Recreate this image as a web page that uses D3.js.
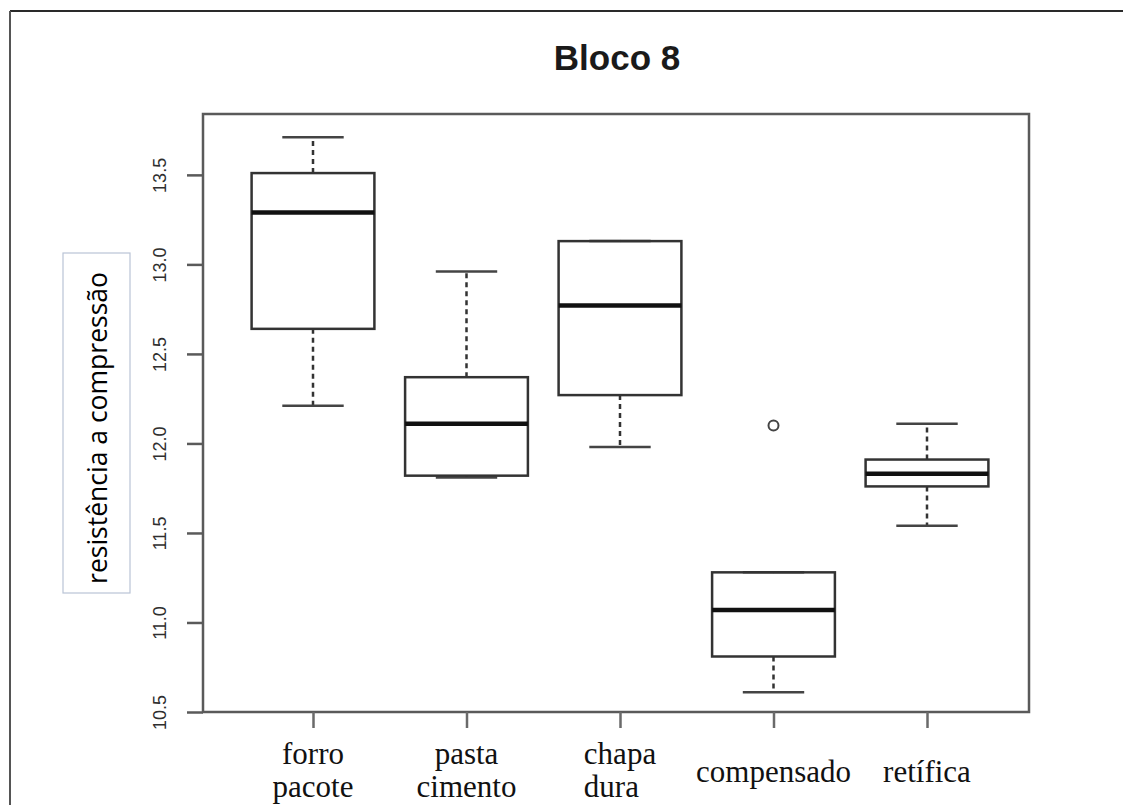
<!DOCTYPE html>
<html>
<head>
<meta charset="utf-8">
<script src="https://cdn.jsdelivr.net/npm/d3@7"></script>
<style>
  html, body { margin: 0; padding: 0; background: #fff; }
  svg { display: block; }
</style>
</head>
<body>
<svg id="chart" width="1123" height="805"></svg>
<script>
// Compressive strength per treatment, block 8
const categories = ["forro pacote", "pasta cimento", "chapa dura", "compensado", "retífica"];
const categoryLines = [["forro", "pacote"], ["pasta", "cimento"], ["chapa", "dura"], ["compensado"], ["retífica"]];
const lowerWhisker = [12.21, 11.81, 11.98, 10.61, 11.54];
const q1 = [12.64, 11.82, 12.27, 10.81, 11.76];
const medians = [13.29, 12.11, 12.77, 11.07, 11.83];
const q3 = [13.51, 12.37, 13.13, 11.28, 11.91];
const upperWhisker = [13.71, 12.96, 13.13, 11.28, 12.11];
const outliers = [[], [], [], [12.10], []];
const yTicks = [10.5, 11.0, 11.5, 12.0, 12.5, 13.0, 13.5];

const rows = categories.map((c, i) => ({
  name: c, idx: i + 1, lines: categoryLines[i],
  lo: lowerWhisker[i], q1: q1[i], med: medians[i], q3: q3[i], hi: upperWhisker[i],
  out: outliers[i]
}));

const svg = d3.select("#chart");

// plot region
const frame = { left: 203, right: 1029, top: 114, bottom: 712 };
const x = d3.scaleLinear().domain([1, 5]).range([313, 927]);
const y = d3.scaleLinear().domain([10.5, 13.84]).range([frame.bottom, frame.top]);
const boxW = 0.8 * (x(2) - x(1));
const capW = boxW / 2;

// outer page border (top and left edges)
svg.append("line").attr("x1", 10).attr("y1", 11).attr("x2", 1123).attr("y2", 11)
  .attr("stroke", "#2a2a2a").attr("stroke-width", 2);
svg.append("line").attr("x1", 10).attr("y1", 11).attr("x2", 10).attr("y2", 805)
  .attr("stroke", "#555").attr("stroke-width", 2);

// title
svg.append("text")
  .attr("x", 617).attr("y", 70)
  .attr("text-anchor", "middle")
  .attr("font-family", "Liberation Sans, Arial, sans-serif")
  .attr("font-weight", "bold")
  .attr("font-size", 35)
  .attr("fill", "#1a1a1a")
  .text("Bloco 8");

// plot frame
svg.append("rect")
  .attr("x", frame.left).attr("y", frame.top)
  .attr("width", frame.right - frame.left).attr("height", frame.bottom - frame.top)
  .attr("fill", "none").attr("stroke", "#5a5a5a").attr("stroke-width", 2.5);

// y axis
const yAxis = d3.axisLeft(y).tickValues(yTicks).tickSize(16).tickFormat(d3.format(".1f"));
const gy = svg.append("g").attr("transform", `translate(${frame.left},0)`).call(yAxis);
gy.select(".domain").remove();
gy.selectAll(".tick line").attr("stroke", "#5a5a5a").attr("stroke-width", 2.5);
gy.selectAll(".tick text")
  .attr("font-family", "Liberation Sans, Arial, sans-serif")
  .attr("font-size", 18)
  .attr("fill", "#2e2e2e")
  .attr("x", 0).attr("dy", 0)
  .attr("text-anchor", "middle")
  .attr("transform", "translate(-37,0) rotate(-90)");

// x axis
const xAxis = d3.axisBottom(x).tickValues(rows.map(r => r.idx)).tickSize(16).tickFormat("");
const gx = svg.append("g").attr("transform", `translate(0,${frame.bottom})`).call(xAxis);
gx.select(".domain").remove();
gx.selectAll(".tick line").attr("stroke", "#6a6a6a").attr("stroke-width", 2.5);

// category labels; "chapa dura" lines share a left edge, the others are centred
const labels = svg.append("g")
  .attr("font-family", "Liberation Serif, Times New Roman, serif")
  .attr("font-size", 31)
  .attr("fill", "#111");
rows.forEach(r => {
  const cx = x(r.idx);
  if (r.lines.length === 2) {
    const leftAligned = r.name === "chapa dura";
    const t = labels.append("text").attr("text-anchor", leftAligned ? "start" : "middle");
    const first = t.append("tspan").attr("x", cx).attr("y", 764).text(r.lines[0]);
    const second = t.append("tspan").attr("x", cx).attr("y", 797).text(r.lines[1]);
    if (leftAligned) {
      const w = first.node().getComputedTextLength();
      first.attr("x", cx - w / 2);
      second.attr("x", cx - w / 2);
    }
  } else {
    labels.append("text").attr("x", cx).attr("y", 782)
      .attr("text-anchor", "middle").text(r.lines[0]);
  }
});

// y axis title inside a framed box
svg.append("rect")
  .attr("x", 63).attr("y", 253).attr("width", 67).attr("height", 340)
  .attr("fill", "#fff").attr("stroke", "#b9c4d6").attr("stroke-width", 1.2);
svg.append("text")
  .attr("transform", "translate(107,428) rotate(-90)")
  .attr("text-anchor", "middle")
  .attr("font-family", "Open Sans, Noto Sans, sans-serif")
  .attr("font-size", 26.5)
  .attr("fill", "#000")
  .text("resistência a compressão");

// boxplots
const g = svg.append("g");
const boxes = g.selectAll("g.box").data(rows).join("g").attr("class", "box");

// dashed whiskers
boxes.append("line")
  .attr("x1", d => x(d.idx)).attr("x2", d => x(d.idx))
  .attr("y1", d => y(d.q3)).attr("y2", d => y(d.hi))
  .attr("stroke", "#333").attr("stroke-width", 2.5).attr("stroke-dasharray", "5,4");
boxes.append("line")
  .attr("x1", d => x(d.idx)).attr("x2", d => x(d.idx))
  .attr("y1", d => y(d.q1)).attr("y2", d => y(d.lo))
  .attr("stroke", "#333").attr("stroke-width", 2.5).attr("stroke-dasharray", "5,4");

// whisker caps
boxes.append("line")
  .attr("x1", d => x(d.idx) - capW / 2).attr("x2", d => x(d.idx) + capW / 2)
  .attr("y1", d => y(d.hi)).attr("y2", d => y(d.hi))
  .attr("stroke", "#444").attr("stroke-width", 2.5);
boxes.append("line")
  .attr("x1", d => x(d.idx) - capW / 2).attr("x2", d => x(d.idx) + capW / 2)
  .attr("y1", d => y(d.lo)).attr("y2", d => y(d.lo))
  .attr("stroke", "#444").attr("stroke-width", 2.5);

// box
boxes.append("rect")
  .attr("x", d => x(d.idx) - boxW / 2).attr("width", boxW)
  .attr("y", d => y(d.q3)).attr("height", d => y(d.q1) - y(d.q3))
  .attr("fill", "none").attr("stroke", "#333").attr("stroke-width", 2.5);

// median
boxes.append("line")
  .attr("x1", d => x(d.idx) - boxW / 2).attr("x2", d => x(d.idx) + boxW / 2)
  .attr("y1", d => y(d.med)).attr("y2", d => y(d.med))
  .attr("stroke", "#111").attr("stroke-width", 4.5);

// outliers
boxes.selectAll("circle").data(d => d.out.map(v => ({ idx: d.idx, v })))
  .join("circle")
  .attr("cx", d => x(d.idx)).attr("cy", d => y(d.v)).attr("r", 5)
  .attr("fill", "none").attr("stroke", "#444").attr("stroke-width", 2);
</script>
</body>
</html>
